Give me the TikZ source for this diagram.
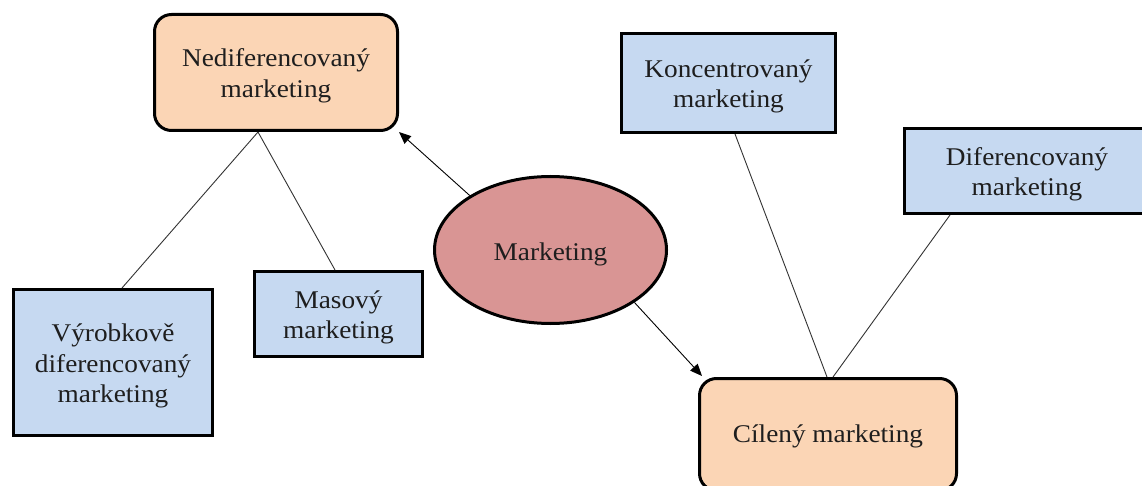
\documentclass[tikz,border=0pt]{standalone}
\usepackage{fontspec}
\setmainfont{Liberation Serif}[FakeStretch=1.07]
\usetikzlibrary{arrows.meta,shapes.geometric}
\definecolor{peach}{HTML}{FBD5B5}
\definecolor{boxblue}{HTML}{C6D9F1}
\definecolor{rose}{HTML}{D99594}
\definecolor{txt}{HTML}{1E1E1E}
\definecolor{linec}{HTML}{333333}
% text block shifted down by #1 inside its node
\newcommand{\mlines}[2][3.5pt]{\raisebox{0pt}[\height][\dimexpr\depth-#1-#1\relax]{\begin{tabular}{@{}c@{}}#2\end{tabular}}}
\begin{document}
\begin{tikzpicture}[x=1pt,y=-1pt,
  lbl/.style={inner sep=0pt, text=txt, font=\fontsize{25.5}{30.5}\selectfont},
  bluebox/.style={lbl, draw=black, line width=3pt, fill=boxblue, rectangle},
  peachbox/.style={lbl, draw=black, line width=3pt, fill=peach, rectangle, rounded corners=17pt},
  oval/.style={lbl, draw=black, line width=3pt, fill=rose, ellipse},
  conn/.style={draw=linec, line width=0.9pt},
  arr/.style={draw=black, line width=0.9pt, -{Triangle[length=12pt,width=10pt]}}]
\useasboundingbox (0,0) rectangle (1142,486);
\clip (0,0) rectangle (1142,486);
\fill[white] (0,0) rectangle (1142,486);

\node[peachbox, minimum width=243pt, minimum height=116pt] (nedif) at (276,72.5) {\mlines{Nediferencovaný\\marketing}};
\node[bluebox, minimum width=168pt, minimum height=85pt] (mas) at (338.5,314) {\mlines{Masový\\marketing}};
\node[bluebox, minimum width=199pt, minimum height=146pt] (vyr) at (113,362.5) {\mlines{Výrobkově\\diferencovaný\\marketing}};
\node[bluebox, minimum width=214pt, minimum height=99pt] (konc) at (728.5,83) {\mlines{Koncentrovaný\\marketing}};
\node[bluebox, minimum width=245pt, minimum height=85pt] (dif) at (1027,171) {\mlines{Diferencovaný\\marketing}};
\node[peachbox, minimum width=257pt, minimum height=112pt] (cil) at (828,434.5) {\mlines[1.5pt]{Cílený marketing}};
\node[oval, minimum width=232pt, minimum height=147pt] (mkt) at (550.5,250) {\mlines[6pt]{Marketing}};

\draw[conn] ([xshift=-18pt]nedif.south) -- ([xshift=9pt]vyr.north);
\draw[conn] ([xshift=-18pt]nedif.south) -- ([xshift=-3.5pt]mas.north);
\draw[conn] ([xshift=6.5pt]konc.south) -- ([xshift=-1pt]cil.north);
\draw[conn] ([xshift=-77pt]dif.south) -- ([xshift=5pt]cil.north);

\draw[arr] (mkt.146) -- (nedif.south east);
\draw[arr] (mkt.-32) -- ([xshift=4pt,yshift=1pt]cil.north west);
\end{tikzpicture}
\end{document}
